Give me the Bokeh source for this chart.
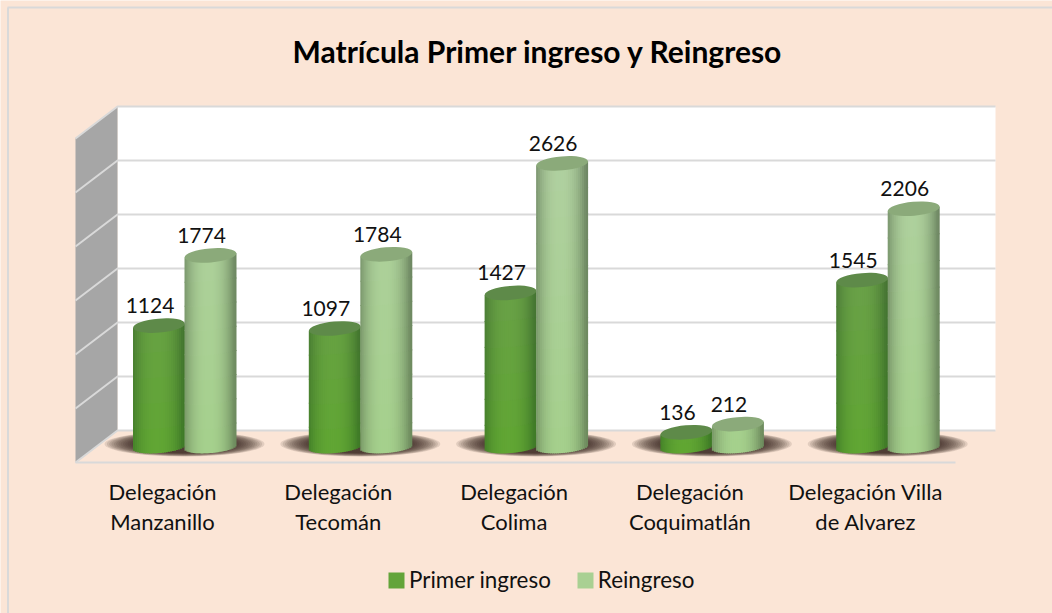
import math
from bokeh.plotting import figure
from bokeh.models import ColumnDataSource, Legend, LegendItem, Range1d
from bokeh.core.properties import value
from bokeh.embed import file_html
from bokeh.resources import INLINE

title_text = "Matrícula Primer ingreso y Reingreso"
categories = ["Delegación\nManzanillo", "Delegación\nTecomán", "Delegación\nColima",
              "Delegación\nCoquimatlán", "Delegación Villa\nde Alvarez"]
primer_ingreso = [1124, 1097, 1427, 136, 1545]
reingreso = [1774, 1784, 2626, 212, 2206]
series_names = ["Primer ingreso", "Reingreso"]
grid_values = [0, 500, 1000, 1500, 2000, 2500, 3000]

W, H = 1052, 613
CAT_PX = 175.8      # pixels per category
VAL_PX = 0.108      # pixels per unit
X0_PX, Y0_PX = 184.0, 446.5
BG = "#FBE5D6"
GRID = "#D9D9D9"
FONT = "Lato"

def dx(px):
    return px / CAT_PX
def dy(px):
    return px / VAL_PX
def X(px):
    return (px - X0_PX) / CAT_PX
def Y(py):
    return (Y0_PX - py) / VAL_PX

p = figure(width=W, height=H, output_backend="svg", toolbar_location=None,
           x_range=Range1d(X(0), X(W)), y_range=Range1d(Y(H), Y(0)),
           background_fill_color=BG, border_fill_color=BG, min_border=0,
           x_axis_type=None, y_axis_type=None, outline_line_color=None)
p.grid.visible = False

vmax = grid_values[-1]
back = 16.5    # px: back wall lift over the value baseline
front = -15.5  # px: front edge
wall_l, wall_r, front_l, front_r = X(117), X(995), X(75), X(955)

# chart-area border (top and left only; the rest runs off the window)
p.line([X(7.5), X(7.5)], [Y(H), Y(7)], line_color=GRID, line_width=2)
p.line([X(7), X(W)], [Y(7), Y(7)], line_color=GRID, line_width=2)

# back wall and side wall
p.quad(left=[wall_l], right=[wall_r], bottom=[dy(back)], top=[vmax + dy(back)],
       fill_color="white", line_color=None)
p.patch([front_l, wall_l, wall_l, front_l],
        [dy(front), dy(back), vmax + dy(back), vmax + dy(front)],
        fill_color="#A6A6A6", line_color=None)
for g in grid_values:
    p.line([front_l, wall_l, wall_r], [g + dy(front), g + dy(back), g + dy(back)],
           line_color=GRID, line_width=2)
p.line([front_l, front_r], [dy(front), dy(front)], line_color=GRID, line_width=2)

# floor shadows
sx = list(range(len(categories)))
LAYERS = 14
for k in range(LAYERS):
    f = k / (LAYERS - 1)
    p.ellipse(x=sx, y=[dy(3)] * len(sx), width=160 - 60 * f, height=25 - 7 * f,
              width_units="screen", height_units="screen",
              fill_color="#2E201B", fill_alpha=0.12, line_color=None)

def lerp(a, b, t):
    return tuple(a[j] + (b[j] - a[j]) * t for j in range(3))
def hx(c):
    return "#%02X%02X%02X" % tuple(int(round(v)) for v in c)

styles = [
    dict(off=-25.5, low=(96, 166, 50), high=(112, 156, 88), edge_low=(62, 122, 38), edge_high=(76, 112, 62),
         top="#5E8A49"),
    dict(off=26.0, low=(165, 208, 140), high=(176, 208, 160), edge_low=(110, 140, 94), edge_high=(112, 136, 102),
         top="#8BAA7A"),
]
LABEL_OFF = -9
R = 26.0
RY = 6.0
TILT = 2.2
N = 26
SEG = 250   # value units of one vertical shading step
renderers = []
legend_index = []
for vals, st in zip([primer_ingreso, reingreso], styles):
    l, r, b, t_, c = [], [], [], [], []
    for i, v in enumerate(vals):
        cx = i + dx(st["off"])
        M = max(2, math.ceil(v / SEG))
        for s in range(N):
            t0 = -1 + 2 * s / N
            t1 = t0 + 2 / N
            tm = (t0 + t1) / 2
            shade = min(1.0, abs(tm + 0.08) ** 2.4)
            base = dy(-RY * math.sqrt(max(0, 1 - tm * tm)) + TILT * tm)
            top = v + dy(TILT * tm)
            for m in range(M):
                fa, fb = m / M, (m + 1) / M
                fm = (fa + fb) / 2
                h = fm * v / 2626   # height share of the tallest bar
                col = lerp(lerp(st["low"], st["high"], h), lerp(st["edge_low"], st["edge_high"], h), shade)
                if i == 0 and s == N // 2 and m == M // 2:
                    legend_index.append(len(l))
                l.append(cx + dx(R * t0))
                r.append(cx + dx(R * t1 + (1.0 if s < N - 1 else 0)))
                b.append(base + (top - base) * fa - (dy(1) if m else 0))
                t_.append(base + (top - base) * fb)
                c.append(hx(col))
    src = ColumnDataSource(dict(left=l, right=r, bottom=b, top=t_, color=c))
    rr = p.quad(left="left", right="right", bottom="bottom", top="top", source=src,
                fill_color="color", line_color=None)
    renderers.append(rr)
    p.ellipse(x=[i + dx(st["off"]) for i in range(len(vals))], y=vals,
              width=2 * R, height=14, angle=0.085,
              width_units="screen", height_units="screen",
              fill_color=st["top"], line_color=None)

for vals, st in zip([primer_ingreso, reingreso], styles):
    p.text(x=[i + dx(st["off"] + LABEL_OFF) for i in range(len(vals))],
           y=[v + dy(20) for v in vals], text=[str(v) for v in vals],
           text_font=value(FONT), text_font_size="21px", text_color="#111111",
           text_align="center", text_baseline="middle")

# category labels
p.text(x=[i + dx(-22) for i in range(len(categories))], y=[Y(506)] * len(categories),
       text=categories, text_font=value(FONT), text_font_size="22px", text_color="#111111",
       text_align="center", text_baseline="middle", text_line_height=1.14)

# title
p.text(x=[X(537.5)], y=[Y(50)], text=[title_text], text_font=value(FONT),
       text_font_size="30px", text_font_style="bold", text_color="#000000",
       text_align="center", text_baseline="middle")

legend = Legend(items=[LegendItem(label=series_names[0], renderers=[renderers[0]], index=legend_index[0]),
                       LegendItem(label=series_names[1], renderers=[renderers[1]], index=legend_index[1])],
                orientation="horizontal", location=(386, 20), background_fill_alpha=0,
                border_line_color=None, label_text_font=FONT, label_text_font_size="22.4px",
                label_text_color="#111111", glyph_width=20, glyph_height=20, spacing=24,
                label_standoff=3, padding=0, margin=0)
p.add_layout(legend)

open("out.html", "w").write(file_html(p, INLINE))
